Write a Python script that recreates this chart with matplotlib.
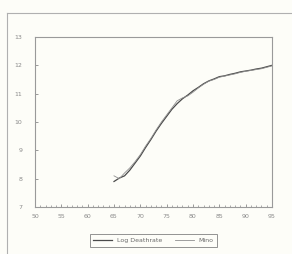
import matplotlib.pyplot as plt
from matplotlib.lines import Line2D

# data
years = [65, 66, 67, 68, 69, 70, 71, 72, 73, 74, 75, 76, 77, 78, 79, 80,
         81, 82, 83, 84, 85, 86, 87, 88, 89, 90, 91, 92, 93, 94, 95]
log_death = [7.9, 8.02, 8.1, 8.3, 8.55, 8.8, 9.1, 9.38, 9.68, 9.95, 10.2, 10.45,
             10.65, 10.82, 10.95, 11.1, 11.22, 11.35, 11.45, 11.52, 11.6, 11.63,
             11.68, 11.72, 11.77, 11.8, 11.83, 11.87, 11.9, 11.95, 12.0]
mino = [8.1, 8.0, 8.2, 8.38, 8.6, 8.85, 9.15, 9.42, 9.72, 10.0, 10.25, 10.5,
        10.75, 10.85, 10.92, 11.05, 11.2, 11.33, 11.44, 11.5, 11.58, 11.62,
        11.66, 11.7, 11.75, 11.79, 11.82, 11.85, 11.88, 11.93, 11.98]
xticks = [50, 55, 60, 65, 70, 75, 80, 85, 90, 95]
yticks = [7, 8, 9, 10, 11, 12, 13]

bg = '#fdfdf8'
grey = '#8a8a8a'

fig = plt.figure(figsize=(2.92, 2.54), dpi=100, facecolor=bg)

# outer frame of the scanned panel
fig.add_artist(Line2D([7/292, 7/292], [0, 1 - 13/254], color='#b0b0b0', lw=0.8))
fig.add_artist(Line2D([7/292, 1], [1 - 13/254, 1 - 13/254], color='#b0b0b0', lw=0.8))

ax = fig.add_axes([35/292, 1 - 207/254, 237/292, 170/254], facecolor=bg)
ax.plot(years, log_death, color='#4a4a4a', lw=0.9, label='Log Deathrate')
ax.plot(years, mino, color='#8f8f8f', lw=0.6, label='Mino')

ax.set_xlim(50, 95)
ax.set_ylim(7, 13)
ax.set_xticks(xticks)
ax.set_yticks(yticks)
ax.set_xticks(range(50, 96), minor=True)
for s in ax.spines.values():
    s.set_color('#9a9a9a')
    s.set_linewidth(0.8)
ax.tick_params(axis='both', which='major', labelsize=4.5, colors=grey,
               direction='in', length=2, width=0.6)
ax.tick_params(axis='x', which='major', pad=5)
ax.tick_params(axis='y', which='major', pad=9)
ax.tick_params(axis='x', which='minor', direction='in', length=1.2, width=0.5, colors=grey)

leg = ax.legend(loc='upper center', bbox_to_anchor=(0.5, -0.14), ncol=2,
                fontsize=4.5, frameon=True, fancybox=False, handlelength=3,
                columnspacing=2, borderpad=0.6)
leg.get_frame().set_edgecolor('#777777')
leg.get_frame().set_linewidth(0.7)
leg.get_frame().set_facecolor(bg)
for t in leg.get_texts():
    t.set_color('#6a6a6a')

fig.savefig('out.png', dpi=100, facecolor=bg)
